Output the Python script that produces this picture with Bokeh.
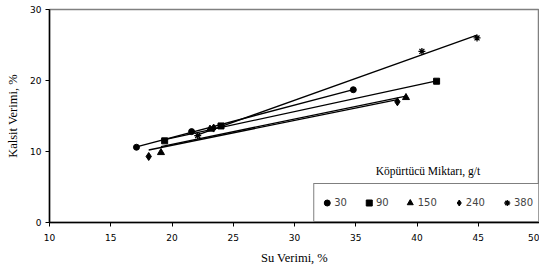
import numpy as np
from bokeh.plotting import figure
from bokeh.models import Range1d, FixedTicker, Legend, LegendItem, Label
from bokeh.embed import file_html
from bokeh.resources import INLINE

# Data (Su Verimi %, Kalsit Verimi %)
dose_labels = ["30", "90", "150", "240", "380"]
x_30 = [17.1, 21.6, 34.8]
y_30 = [10.6, 12.8, 18.7]
x_90 = [19.4, 24.0, 41.6]
y_90 = [11.5, 13.6, 19.9]
x_150 = [19.1, 23.1, 39.1]
y_150 = [9.85, 13.15, 17.6]
x_240 = [18.1, 23.4, 38.4]
y_240 = [9.3, 13.3, 17.0]
x_380 = [22.1, 40.4, 44.9]
y_380 = [12.25, 24.1, 26.0]

x_ticks = [10, 15, 20, 25, 30, 35, 40, 45, 50]
y_ticks = [0, 10, 20, 30]

series = [
    (x_30, y_30, "circle", 6),
    (x_90, y_90, "square", 6),
    (x_150, y_150, "triangle", 7),
    (x_240, y_240, "diamond", 8),
    (x_380, y_380, "asterisk", 7),
]

p = figure(width=539, height=267, output_backend="svg", toolbar_location=None,
           x_range=Range1d(10, 50), y_range=Range1d(0, 30),
           min_border_left=49, min_border_right=0, min_border_top=9, min_border_bottom=43)

p.xgrid.visible = False
p.ygrid.visible = False
p.outline_line_color = "#808080"
p.outline_line_width = 1.5
p.background_fill_color = "white"
p.border_fill_color = "white"

for ax in (p.xaxis[0], p.yaxis[0]):
    ax.axis_line_color = "black"
    ax.axis_line_width = 1.5
    ax.major_tick_line_color = "black"
    ax.major_tick_line_width = 1
    ax.major_tick_out = 4
    ax.major_tick_in = 0
    ax.minor_tick_line_color = None
    ax.major_label_text_font = "DejaVu Sans"
    ax.major_label_text_font_size = "9px"
    ax.major_label_text_color = "black"
    ax.axis_label_text_font = "Liberation Serif"
    ax.axis_label_text_font_size = "12.5px"
    ax.axis_label_text_font_style = "normal"
    ax.axis_label_text_color = "black"

p.xaxis.ticker = FixedTicker(ticks=x_ticks)
p.yaxis.ticker = FixedTicker(ticks=y_ticks)
p.xaxis.axis_label = "Su Verimi, %"
p.yaxis.axis_label = "Kalsit Verimi, %"
p.xaxis.major_label_standoff = 7
p.xaxis.axis_label_standoff = 7
p.yaxis.major_label_standoff = 4
p.yaxis.axis_label_standoff = 7

items = []
for (xs, ys, marker, size), lab in zip(series, dose_labels):
    xs_a = np.array(xs)
    ys_a = np.array(ys)
    m, b = np.polyfit(xs_a, ys_a, 1)
    xl = np.array([xs_a.min(), xs_a.max()])
    p.line(xl, m * xl + b, line_color="black", line_width=1.3)
    r = p.scatter(xs, ys, marker=marker, size=size, fill_color="black",
                  line_color="black", line_width=1.3 if marker == "asterisk" else 1)
    items.append(LegendItem(label=lab, renderers=[r]))

legend = Legend(items=items, orientation="horizontal", location="bottom_right",
                margin=0, padding=5, spacing=14, glyph_width=15, glyph_height=15,
                label_standoff=0, label_height=27, label_width=0,
                label_text_font="DejaVu Sans", label_text_font_size="10px",
                border_line_color="black", border_line_width=1.5,
                background_fill_color="white", background_fill_alpha=1)
p.add_layout(legend, "center")

p.add_layout(Label(x=40.9, y=7.2, text="Köpürtücü Miktarı, g/t",
                   text_font="Liberation Serif", text_font_size="11.5px",
                   text_align="center", text_baseline="middle", text_color="black"))

open("out.html", "w").write(file_html(p, INLINE))
